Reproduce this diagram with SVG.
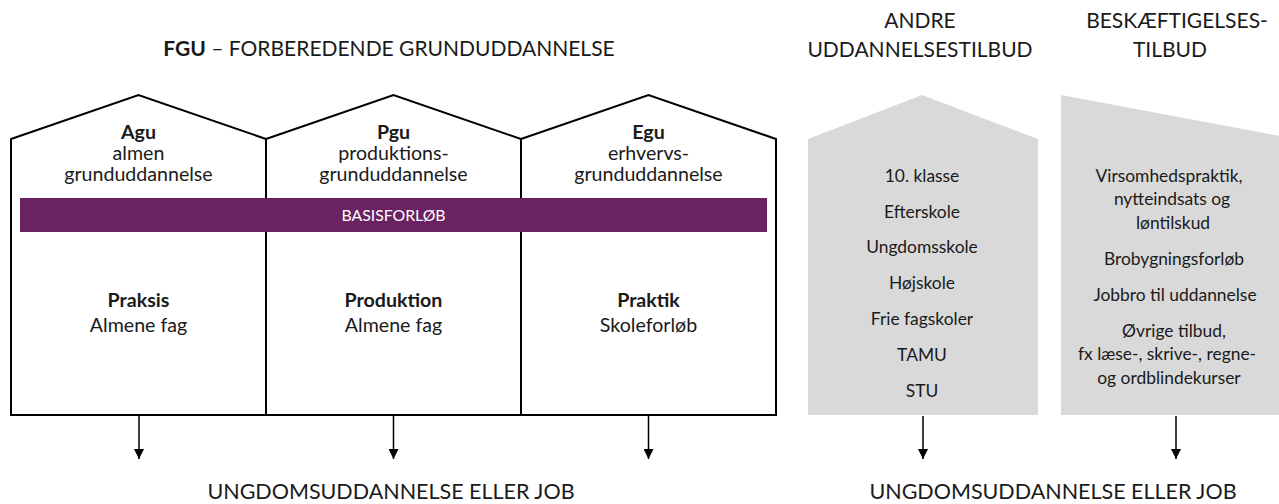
<svg xmlns="http://www.w3.org/2000/svg" width="1279" height="504" viewBox="0 0 1279 504">
<style>
text{font-family:Lato,"Open Sans","Liberation Sans",sans-serif;fill:#1a1a1a;text-anchor:middle}
.h{font-size:21px}
.o{font-size:21.5px}
.t{font-size:19.6px}
.b{font-weight:bold}
.g{font-size:17.4px}
.house{fill:#fff;stroke:#000;stroke-width:2;stroke-linejoin:miter}
.grey{fill:#d9d9d9}
.conn{stroke:#000;stroke-width:1.5;fill:none}
</style>
<defs>
<marker id="ah" viewBox="0 0 10 10" refX="10" refY="5" markerWidth="10" markerHeight="10" markerUnits="userSpaceOnUse" orient="auto">
<path d="M0,0 L10,5 L0,10 Z" fill="#000"/>
</marker>
</defs>
<g id="headings">
<text class="h" x="389" y="56"><tspan class="b">FGU</tspan> – FORBEREDENDE GRUNDUDDANNELSE</text>
<text class="h" x="920" y="28">ANDRE</text>
<text class="h" x="920" y="57">UDDANNELSESTILBUD</text>
<text class="h" x="1177" y="28">BESKÆFTIGELSES-</text>
<text class="h" x="1170" y="57">TILBUD</text>
</g>
<g id="agu">
<path class="house" d="M11,139 L138.5,95 L266,139 L266,415 L11,415 Z"/>
<text class="t b" x="138.5" y="139">Agu</text>
<text class="t" x="138.5" y="160">almen</text>
<text class="t" x="138.5" y="181">grunduddannelse</text>
<text class="t b" x="138.5" y="307">Praksis</text>
<text class="t" x="138.5" y="332">Almene fag</text>
</g>
<g id="pgu">
<path class="house" d="M266,139 L393.5,95 L521,139 L521,415 L266,415 Z"/>
<text class="t b" x="393.5" y="139">Pgu</text>
<text class="t" x="393.5" y="160">produktions-</text>
<text class="t" x="393.5" y="181">grunduddannelse</text>
<text class="t b" x="393.5" y="307">Produktion</text>
<text class="t" x="393.5" y="332">Almene fag</text>
</g>
<g id="egu">
<path class="house" d="M521,139 L648.5,95 L776,139 L776,415 L521,415 Z"/>
<text class="t b" x="648.5" y="139">Egu</text>
<text class="t" x="648.5" y="160">erhvervs-</text>
<text class="t" x="648.5" y="181">grunduddannelse</text>
<text class="t b" x="648.5" y="307">Praktik</text>
<text class="t" x="648.5" y="332">Skoleforløb</text>
</g>
<g id="basisforloeb">
<rect x="20" y="198" width="747" height="34" fill="#6a2262"/>
<text x="393.5" y="221" style="font-size:15.8px;fill:#fff">BASISFORLØB</text>
</g>
<g id="andre">
<path class="grey" d="M808,139 L922,95 L1038,139 L1038,415 L808,415 Z"/>
<text class="g" x="922" y="182">10. klasse</text>
<text class="g" x="922" y="218">Efterskole</text>
<text class="g" x="922" y="253">Ungdomsskole</text>
<text class="g" x="922" y="289">Højskole</text>
<text class="g" x="922" y="325">Frie fagskoler</text>
<text class="g" x="922" y="361">TAMU</text>
<text class="g" x="922" y="397">STU</text>
</g>
<g id="beskaeftigelse">
<path class="grey" d="M1061,95 L1291,138 L1291,415 L1061,415 Z"/>
<text class="g" x="1169" y="182">Virsomhedspraktik,</text>
<text class="g" x="1172" y="205">nytteindsats og</text>
<text class="g" x="1173" y="229">løntilskud</text>
<text class="g" x="1174" y="265">Brobygningsforløb</text>
<text class="g" x="1175" y="301">Jobbro til uddannelse</text>
<text class="g" x="1174" y="337">Øvrige tilbud,</text>
<text class="g" x="1167" y="360">fx læse-, skrive-, regne-</text>
<text class="g" x="1169" y="384">og ordblindekurser</text>
</g>
<g id="connectors">
<line class="conn" x1="139" y1="416" x2="139" y2="459" marker-end="url(#ah)"/>
<line class="conn" x1="393.5" y1="416" x2="393.5" y2="459" marker-end="url(#ah)"/>
<line class="conn" x1="648.5" y1="416" x2="648.5" y2="459" marker-end="url(#ah)"/>
<line class="conn" x1="923" y1="416" x2="923" y2="459" marker-end="url(#ah)"/>
<line class="conn" x1="1176" y1="416" x2="1176" y2="459" marker-end="url(#ah)"/>
</g>
<g id="outcomes">
<text class="o" x="391" y="499">UNGDOMSUDDANNELSE ELLER JOB</text>
<text class="o" x="1053" y="499">UNGDOMSUDDANNELSE ELLER JOB</text>
</g>
</svg>
